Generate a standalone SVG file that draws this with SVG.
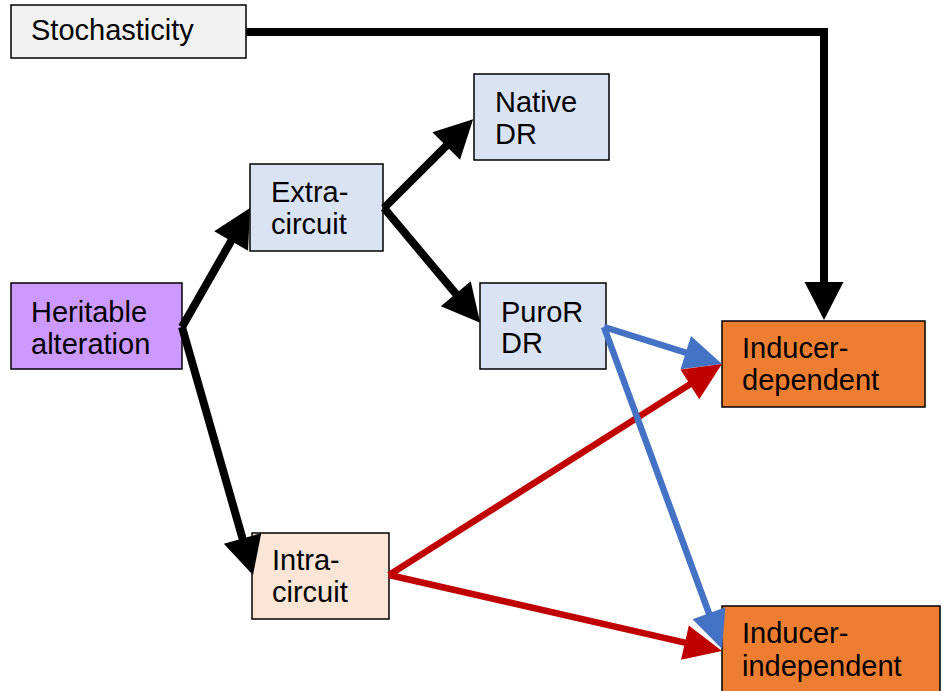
<svg xmlns="http://www.w3.org/2000/svg" width="943" height="691" viewBox="0 0 943 691">
<style>
.box{stroke:#000;stroke-width:1.5}
.t{font-family:"Liberation Sans",Arial,sans-serif;font-size:29px;fill:#000}
.k{fill:none;stroke:#000;stroke-width:8}
.b{fill:none;stroke:#4472c4;stroke-width:6.5}
.r{fill:none;stroke:#c00000;stroke-width:6.5}
</style>
<defs>
<marker id="ak" markerUnits="userSpaceOnUse" markerWidth="40" markerHeight="40" refX="10" refY="19.5" orient="auto" overflow="visible"><path d="M0,0 L38,19.5 L0,39 Z" fill="#000"/></marker>
<marker id="ab" markerUnits="userSpaceOnUse" markerWidth="40" markerHeight="40" refX="10" refY="17.5" orient="auto" overflow="visible"><path d="M0,0 L38,17.5 L0,35 Z" fill="#4472c4"/></marker>
<marker id="ar" markerUnits="userSpaceOnUse" markerWidth="40" markerHeight="40" refX="10" refY="17.5" orient="auto" overflow="visible"><path d="M0,0 L38,17.5 L0,35 Z" fill="#c00000"/></marker>
</defs>
<rect width="943" height="691" fill="#fff"/>
<g id="stochasticity"><rect class="box" x="11" y="5" width="235" height="53" fill="#f2f2f2"/><text class="t" x="31" y="40">Stochasticity</text></g>
<g id="heritable"><rect class="box" x="11" y="283" width="171" height="86" fill="#cc99ff"/><text class="t" x="31" y="322">Heritable</text><text class="t" x="31" y="354">alteration</text></g>
<g id="extra"><rect class="box" x="250" y="164" width="133" height="87" fill="#dae3f3"/><text class="t" x="271" y="202">Extra-</text><text class="t" x="271" y="234">circuit</text></g>
<g id="native"><rect class="box" x="474" y="74" width="135" height="86" fill="#dae3f3"/><text class="t" x="495" y="112">Native</text><text class="t" x="495" y="144">DR</text></g>
<g id="puror"><rect class="box" x="480" y="283" width="126" height="86" fill="#dae3f3"/><text class="t" x="501" y="322">PuroR</text><text class="t" x="501" y="353">DR</text></g>
<g id="intra"><rect class="box" x="252" y="533" width="137" height="86" fill="#fbe5d6"/><text class="t" x="272" y="570">Intra-</text><text class="t" x="272" y="602">circuit</text></g>
<g id="inddep"><rect class="box" x="722" y="321" width="203" height="86" fill="#ed7d31"/><text class="t" x="742" y="358">Inducer-</text><text class="t" x="742" y="390">dependent</text></g>
<g id="indindep"><rect class="box" x="722" y="606" width="218" height="100" fill="#ed7d31"/><text class="t" x="742" y="643">Inducer-</text><text class="t" x="742" y="676">independent</text></g>
<g id="connectors">
<path class="k" d="M246,32 H824 V292" marker-end="url(#ak)"/>
<path class="k" d="M182,327 L236.1,232.3" marker-end="url(#ak)"/>
<path class="k" d="M182,327 L245.3,548.1" marker-end="url(#ak)"/>
<path class="k" d="M384,208 L453.3,138.9" marker-end="url(#ak)"/>
<path class="k" d="M384,208 L462.2,301.4" marker-end="url(#ak)"/>
<path class="b" d="M604,327 L695.3,355.6" marker-end="url(#ab)"/>
<path class="r" d="M389,575 L698.3,379" marker-end="url(#ar)"/>
<path class="r" d="M389,575 L694.7,644.8" marker-end="url(#ar)"/>
<path class="b" d="M604,327 L712.4,622.7" marker-end="url(#ab)"/>
</g>
</svg>
